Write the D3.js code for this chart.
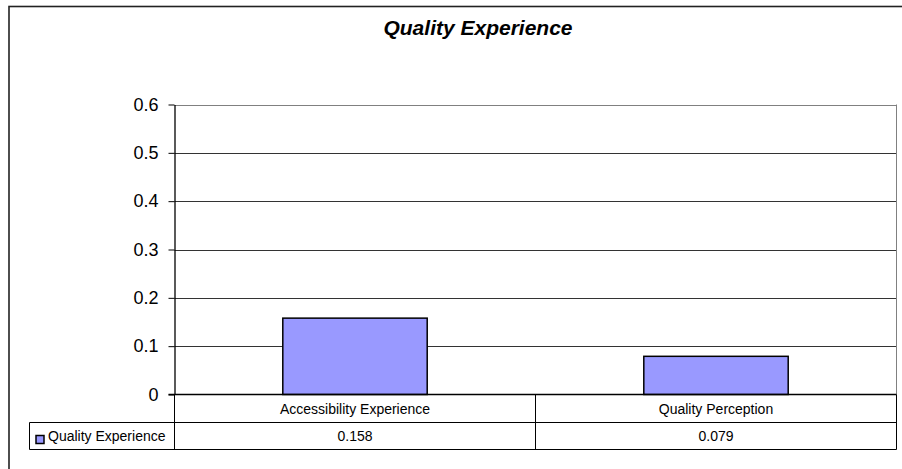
<!DOCTYPE html>
<html>
<head>
<meta charset="utf-8">
<script src="https://cdn.jsdelivr.net/npm/d3@7"></script>
<style>
  html, body { margin: 0; padding: 0; background: #fff; }
  svg { display: block; font-family: Arial, "Liberation Sans", sans-serif; }
</style>
</head>
<body>
<svg id="chart" width="902" height="469"></svg>
<script>
// Chart content
const chartTitle = "Quality Experience";
const categories = ["Accessibility Experience", "Quality Perception"];
const seriesName = "Quality Experience";
const seriesValues = [0.158, 0.079];
const valueLabels = ["0.158", "0.079"];
const yTicks = [0, 0.1, 0.2, 0.3, 0.4, 0.5, 0.6];

const svg = d3.select("#chart");

// Layout
const frame = { left: 9, top: 6.5, right: 910, bottom: 480 };
const plot = { left: 174.5, top: 104.5, right: 896.5, bottom: 394.5 };
const table = { left: 29.5, rowSplit: 422.5, bottom: 449.5 };
const barColor = "#9999ff";

// Outer chart frame (runs past the right and bottom edges of the view)
svg.append("rect")
  .attr("x", frame.left).attr("y", frame.top)
  .attr("width", frame.right - frame.left).attr("height", frame.bottom - frame.top)
  .attr("fill", "#fff").attr("stroke", "#222").attr("stroke-width", 1.6);

// Title
svg.append("text")
  .attr("x", 478).attr("y", 35)
  .attr("text-anchor", "middle")
  .style("font-size", "21px").style("font-weight", "bold").style("font-style", "italic")
  .text(chartTitle);

// Scales
const y = d3.scaleLinear().domain([0, 0.6]).range([plot.bottom, plot.top]);
const x = d3.scaleBand().domain(categories).range([plot.left, plot.right]).paddingInner(0).paddingOuter(0);
const barW = x.bandwidth() * 0.4;

// Gridlines
svg.append("g").selectAll("line")
  .data(yTicks.filter(d => d > 0))
  .join("line")
  .attr("x1", plot.left).attr("x2", plot.right)
  .attr("y1", d => Math.round(y(d)) + 0.5).attr("y2", d => Math.round(y(d)) + 0.5)
  .attr("stroke", d => d === 0.6 ? "#808080" : "#333")
  .attr("stroke-width", 1);

// Plot right edge
svg.append("line")
  .attr("x1", plot.right).attr("x2", plot.right)
  .attr("y1", plot.top).attr("y2", plot.bottom)
  .attr("stroke", "#808080");

// Y axis
const yAxis = d3.axisLeft(y)
  .tickValues(yTicks)
  .tickSize(6)
  .tickSizeOuter(0)
  .tickPadding(10)
  .tickFormat(d => d === 0 ? "0" : d3.format(".1f")(d));
const gy = svg.append("g")
  .attr("transform", `translate(${plot.left},0)`)
  .call(yAxis);
gy.select(".domain").attr("stroke", "#000").attr("stroke-width", 1.3);
gy.selectAll(".tick line").attr("stroke", "#000");
gy.selectAll(".tick text")
  .attr("fill", "#000")
  .style("font-size", "18px")
  .style("font-family", "Arial, 'Liberation Sans', sans-serif");

// Bars
svg.append("g").selectAll("rect")
  .data(seriesValues)
  .join("rect")
  .attr("x", (d, i) => x(categories[i]) + (x.bandwidth() - barW) / 2)
  .attr("y", d => y(d))
  .attr("width", barW)
  .attr("height", d => y(0) - y(d))
  .attr("fill", barColor)
  .attr("stroke", "#000")
  .attr("stroke-width", 1.5);

// Category axis baseline
svg.append("line")
  .attr("x1", plot.left - 6).attr("x2", plot.right)
  .attr("y1", plot.bottom).attr("y2", plot.bottom)
  .attr("stroke", "#000").attr("stroke-width", 1.3);

// Data table
const tbl = svg.append("g");
const lineAttr = sel => sel.attr("stroke", "#000").attr("stroke-width", 1).attr("fill", "none");

// rule between header row and value row
tbl.append("line").call(lineAttr)
  .attr("x1", table.left).attr("x2", plot.right)
  .attr("y1", table.rowSplit).attr("y2", table.rowSplit);
// bottom rule
tbl.append("line").call(lineAttr)
  .attr("x1", table.left).attr("x2", plot.right)
  .attr("y1", table.bottom).attr("y2", table.bottom);
// left edge of legend cell
tbl.append("line").call(lineAttr)
  .attr("x1", table.left).attr("x2", table.left)
  .attr("y1", table.rowSplit).attr("y2", table.bottom);
// column separators
const colEdges = categories.map(c => x(c)).concat([plot.right]);
tbl.selectAll("line.col")
  .data(colEdges)
  .join("line").attr("class", "col").call(lineAttr)
  .attr("x1", d => d).attr("x2", d => d)
  .attr("y1", plot.bottom).attr("y2", table.bottom);

// category labels
tbl.selectAll("text.cat")
  .data(categories)
  .join("text").attr("class", "cat")
  .attr("x", d => x(d) + x.bandwidth() / 2)
  .attr("y", 414)
  .attr("text-anchor", "middle")
  .style("font-size", "14px")
  .text(d => d);

// value labels
tbl.selectAll("text.val")
  .data(valueLabels)
  .join("text").attr("class", "val")
  .attr("x", (d, i) => x(categories[i]) + x.bandwidth() / 2)
  .attr("y", 441)
  .attr("text-anchor", "middle")
  .style("font-size", "14px")
  .text(d => d);

// legend key and series name
tbl.append("rect")
  .attr("x", 36).attr("y", 435.5)
  .attr("width", 8).attr("height", 8)
  .attr("fill", barColor).attr("stroke", "#000").attr("stroke-width", 1.5);
tbl.append("text")
  .attr("x", 48).attr("y", 441)
  .style("font-size", "14px")
  .text(seriesName);
</script>
</body>
</html>
